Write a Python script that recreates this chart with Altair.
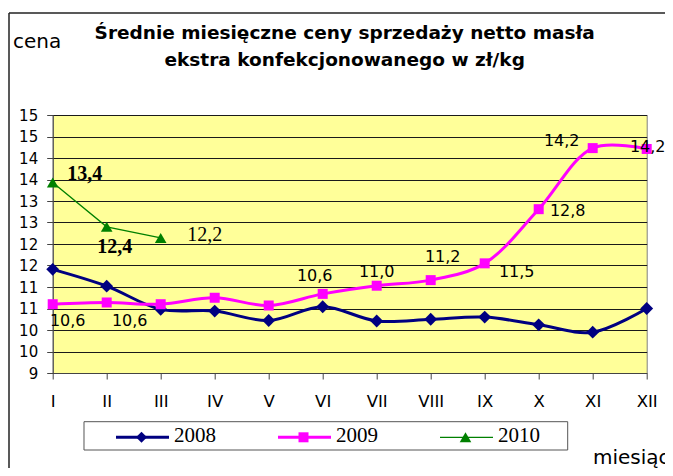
import altair as alt
import pandas as pd

# ---------------- data ----------------
months = ["I", "II", "III", "IV", "V", "VI", "VII", "VIII", "IX", "X", "XI", "XII"]
series_names = ["2008", "2009", "2010"]
values_2008 = [11.41, 11.02, 10.48, 10.44, 10.22, 10.54, 10.21, 10.25, 10.30, 10.12, 9.95, 10.50]
values_2009 = [10.60, 10.64, 10.60, 10.75, 10.57, 10.84, 11.03, 11.16, 11.55, 12.81, 14.23, 14.21]
values_2010 = [13.43, 12.40, 12.14]
y_tick_values = [9, 9.5, 10, 10.5, 11, 11.5, 12, 12.5, 13, 13.5, 14, 14.5, 15]

labels_2009_months = ["I", "II", "VI", "VII", "VIII", "IX", "X", "XI", "XII"]
labels_2009_text = ["10,6", "10,6", "10,6", "11,0", "11,2", "11,5", "12,8", "14,2", "14,2"]
labels_2010_months = ["I", "II", "III"]
labels_2010_text = ["13,4", "12,4", "12,2"]

title_lines = ["Średnie miesięczne ceny sprzedaży netto masła",
               "ekstra konfekcjonowanego w zł/kg"]
y_title = "cena"
x_title = "miesiąc"

# ---------------- layout / style ----------------
W, H = 594, 258
PAD = {"left": 44.7, "top": 107, "right": 18.3, "bottom": 95}

series_values = {"2008": values_2008, "2009": values_2009, "2010": values_2010}
styles = {
    "2008": dict(color="#000080", width=3, shape="diamond", size=165, interp="catmull-rom", lsize=120),
    "2009": dict(color="#FF00FF", width=3, shape="square", size=100, interp="catmull-rom", lsize=100),
    "2010": dict(color="#008000", width=1.3, shape="triangle-up", size=135, interp="linear", lsize=135),
}
# label nudges (pixels) relative to their point
nudge_2009 = [(15, 17), (23, 19), (-8, -18), (0, -14), (12, -23), (32, 9), (29, 2), (-31, -7), (1, -2)]
nudge_2010 = [(32, -9), (8, 20), (44, -3)]
style_2010 = [("Liberation Serif", "bold"), ("Liberation Serif", "bold"), ("Liberation Serif", "normal")]

x_enc = alt.X(
    "month:N", sort=months,
    scale=alt.Scale(type="point", domain=months, padding=0),
    axis=alt.Axis(title=None, labelAngle=0, grid=False, tickSize=6, labelFont="DejaVu Sans",
                  labelFontSize=16.5, labelColor="#000", labelPadding=14, domainColor="#444",
                  tickColor="#444"),
)
y_enc = alt.Y(
    "value:Q",
    scale=alt.Scale(domain=[9, 15], nice=False, zero=False),
    axis=alt.Axis(title=None, values=y_tick_values, tickCount=len(y_tick_values), tickMinStep=0.5,
                  format="d", grid=True, gridColor="#1a1a1a", gridWidth=1, tickSize=6,
                  tickColor="#444", domainColor="#444", labelFont="DejaVu Sans", labelFontSize=15,
                  labelColor="#000", labelPadding=9, labelOverlap=False),
)

layers = []

# outer frame (top and left edges)
frame_df = pd.DataFrame({"k": [0]})
layers.append(alt.Chart(frame_df).mark_rule(color="#222", strokeWidth=1.5).encode(
    x=alt.value(-43.7), y=alt.value(-102), y2=alt.value(H + PAD["bottom"])))
layers.append(alt.Chart(frame_df).mark_rule(color="#222", strokeWidth=1.5).encode(
    x=alt.value(-43.7), x2=alt.value(W + PAD["right"]), y=alt.value(-102)))

# series
for name in series_names:
    vals = series_values[name]
    st = styles[name]
    df = pd.DataFrame({"month": months[:len(vals)], "value": vals})
    layers.append(alt.Chart(df).mark_line(color=st["color"], strokeWidth=st["width"],
                                          interpolate=st["interp"]).encode(x=x_enc, y=y_enc))
    layers.append(alt.Chart(df).mark_point(shape=st["shape"], size=st["size"], filled=True,
                                           color=st["color"], opacity=1).encode(x=x_enc, y=y_enc))

# data labels 2009
for m, t, (dx, dy) in zip(labels_2009_months, labels_2009_text, nudge_2009):
    df = pd.DataFrame({"month": [m], "value": [values_2009[months.index(m)]], "t": [t]})
    layers.append(alt.Chart(df).mark_text(font="DejaVu Sans", fontSize=16, color="#000",
                                          align="center", baseline="middle", dx=dx, dy=dy)
                  .encode(x=x_enc, y=y_enc, text="t:N"))
# data labels 2010
for m, t, (dx, dy), (fnt, fw) in zip(labels_2010_months, labels_2010_text, nudge_2010, style_2010):
    df = pd.DataFrame({"month": [m], "value": [values_2010[months.index(m)]], "t": [t]})
    layers.append(alt.Chart(df).mark_text(font=fnt, fontWeight=fw, fontSize=20, color="#000",
                                          align="center", baseline="middle", dx=dx, dy=dy)
                  .encode(x=x_enc, y=y_enc, text="t:N"))

# titles
for line, yy in zip(title_lines, [-76.5, -49.5]):
    layers.append(alt.Chart(pd.DataFrame({"t": [line]})).mark_text(
        font="DejaVu Sans", fontWeight="bold", fontSize=18.5, color="#000",
        align="center", baseline="alphabetic").encode(x=alt.value(292), y=alt.value(yy), text="t:N"))
layers.append(alt.Chart(pd.DataFrame({"t": [y_title]})).mark_text(
    font="DejaVu Sans", fontSize=20, color="#000", align="left", baseline="alphabetic")
    .encode(x=alt.value(-39.7), y=alt.value(-67), text="t:N"))
layers.append(alt.Chart(pd.DataFrame({"t": [x_title]})).mark_text(
    font="DejaVu Sans", fontSize=20, color="#000", align="left", baseline="alphabetic")
    .encode(x=alt.value(540.3), y=alt.value(349), text="t:N"))

# legend
layers.append(alt.Chart(frame_df).mark_rect(fill="#ffffff", stroke="#555", strokeWidth=1).encode(
    x=alt.value(31.3), x2=alt.value(515), y=alt.value(306.7), y2=alt.value(335)))
for i, name in enumerate(series_names):
    st = styles[name]
    x0 = 63.3 + i * 162
    ly = 322.3
    layers.append(alt.Chart(frame_df).mark_rule(color=st["color"], strokeWidth=st["width"]).encode(
        x=alt.value(x0), x2=alt.value(x0 + 53), y=alt.value(ly)))
    layers.append(alt.Chart(frame_df).mark_point(shape=st["shape"], size=st["lsize"], filled=True,
                                                 color=st["color"], opacity=1).encode(
        x=alt.value(x0 + 25.5), y=alt.value(ly)))
    layers.append(alt.Chart(pd.DataFrame({"t": [name]})).mark_text(
        font="Liberation Serif", fontSize=21, color="#000", align="left", baseline="middle")
        .encode(x=alt.value(x0 + 58), y=alt.value(320.5), text="t:N"))

chart = alt.layer(*layers).properties(
    width=W, height=H, padding=PAD, autosize=alt.AutoSizeParams(type="none")
).configure_view(fill="#FFFF99", stroke="#808080", strokeWidth=1)

chart.save("out.html", embed_options={"renderer": "svg", "actions": False})
